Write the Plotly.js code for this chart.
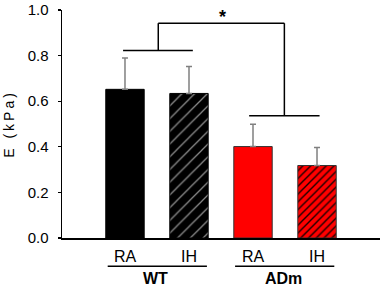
<!DOCTYPE html>
<html>
<head>
<meta charset="utf-8">
<script src="https://cdn.plot.ly/plotly-3.0.1.min.js"></script>
<style>
html,body{margin:0;padding:0;background:#fff;}
#chart{width:383px;height:289px;}
#chart .ytitle{letter-spacing:3px;}
</style>
</head>
<body>
<div id="chart"></div>
<script>
// ---- data ----
var groups = ["WT", "WT", "ADm", "ADm"];
var conditions = ["RA", "IH", "RA", "IH"];
var means = [0.652, 0.634, 0.401, 0.318];
var sems = [0.138, 0.118, 0.098, 0.079];
var groupNames = ["WT", "ADm"];
var yTickValues = [0.0, 0.2, 0.4, 0.6, 0.8, 1.0];
var significanceLabel = "*";

var xIdx = conditions.map(function (_, i) { return i; });

function groupIdx(g) { return xIdx.filter(function (i) { return groups[i] === g; }); }
function groupMin(g) { return Math.min.apply(null, groupIdx(g)); }
function groupMax(g) { return Math.max.apply(null, groupIdx(g)); }
function groupCenter(g) { return (groupMin(g) + groupMax(g)) / 2; }

// styles per bar (not data)
var fillColor = { WT: "#000000", ADm: "#ff0000" };
var outlineColor = { WT: "#000000", ADm: "#333333" };
var hatchColor = { WT: "#8c8c8c", ADm: "#1a0000" };
var hatchSize = { WT: 9, ADm: 5.5 };
var hatchSolidity = { WT: 0.14, ADm: 0.25 };

var FONT = "Liberation Sans, Arial, sans-serif";

var traces = xIdx.map(function (i) {
  var g = groups[i];
  var hatched = conditions[i] === "IH";
  var marker = {
    color: fillColor[g],
    line: { color: outlineColor[g], width: 1 }
  };
  if (hatched) {
    marker.pattern = {
      shape: "/",
      fgcolor: hatchColor[g],
      bgcolor: fillColor[g],
      size: hatchSize[g],
      solidity: hatchSolidity[g],
      fillmode: "replace"
    };
  }
  return {
    type: "bar",
    x: [xIdx[i]],
    y: [means[i]],
    width: 0.6,
    marker: marker,
    error_y: {
      type: "data",
      array: [sems[i]],
      arrayminus: [0],
      symmetric: false,
      color: "#808080",
      thickness: 1.5,
      width: 3
    },
    hoverinfo: "none"
  };
});

var wt = groupNames[0], ad = groupNames[1];
var wtBarY = 0.822, topY = 0.942, adBarY = 0.536;
var wtMid = groupCenter(wt), adMid = groupCenter(ad);
var line = { color: "#000000", width: 1.5 };

var shapes = [
  { type: "line", xref: "x", yref: "y", x0: groupMin(wt) - 0.03, x1: groupMax(wt) + 0.06, y0: wtBarY, y1: wtBarY, line: line },
  { type: "line", xref: "x", yref: "y", x0: wtMid + 0.02, x1: wtMid + 0.02, y0: wtBarY, y1: topY, line: line },
  { type: "line", xref: "x", yref: "y", x0: wtMid + 0.02, x1: adMid - 0.01, y0: topY, y1: topY, line: line },
  { type: "line", xref: "x", yref: "y", x0: adMid - 0.01, x1: adMid - 0.01, y0: topY, y1: adBarY, line: line },
  { type: "line", xref: "x", yref: "y", x0: groupMin(ad) - 0.06, x1: groupMax(ad) + 0.04, y0: adBarY, y1: adBarY, line: line },
  { type: "line", xref: "x", yref: "paper", x0: groupMin(wt) - 0.27, x1: groupMax(wt) + 0.28, y0: -0.124, y1: -0.124, line: line },
  { type: "line", xref: "x", yref: "paper", x0: groupMin(ad) - 0.28, x1: groupMax(ad) + 0.27, y0: -0.124, y1: -0.124, line: line }
];

var annotations = [
  { x: wtMid - 0.03, y: -0.178, xref: "x", yref: "paper", text: "<b>" + wt + "</b>", showarrow: false,
    font: { family: FONT, size: 16, color: "#000" }, yanchor: "middle" },
  { x: adMid - 0.03, y: -0.178, xref: "x", yref: "paper", text: "<b>" + ad + "</b>", showarrow: false,
    font: { family: FONT, size: 16, color: "#000" }, yanchor: "middle" },
  { x: (wtMid + adMid) / 2 + 0.03, y: 0.968, xref: "x", yref: "y", text: "<b>" + significanceLabel + "</b>", showarrow: false,
    font: { family: FONT, size: 18, color: "#000" }, yanchor: "middle" }
];

var layout = {
  width: 383,
  height: 289,
  margin: { l: 62, r: 3, t: 10, b: 51, pad: 0 },
  paper_bgcolor: "#ffffff",
  plot_bgcolor: "#ffffff",
  showlegend: false,
  barmode: "overlay",
  font: { family: FONT, size: 14, color: "#000" },
  xaxis: {
    range: [-0.984, 3.984],
    tickmode: "array",
    tickvals: xIdx,
    ticktext: conditions,
    ticks: "",
    ticklabelstandoff: 3,
    showgrid: false,
    zeroline: false,
    showline: true,
    linecolor: "#000",
    linewidth: 1.5,
    tickfont: { family: FONT, size: 16 },
    fixedrange: true
  },
  yaxis: {
    range: [0, 1.0],
    tickmode: "array",
    tickvals: yTickValues,
    tickformat: ".1f",
    ticks: "outside",
    ticklen: 3,
    tickwidth: 1.2,
    tickcolor: "#000",
    ticklabelstandoff: 6,
    showgrid: false,
    zeroline: false,
    showline: true,
    linecolor: "#000",
    linewidth: 1.5,
    tickfont: { family: FONT, size: 15 },
    title: { text: "E (kPa)", font: { family: FONT, size: 14 }, standoff: 9 },
    fixedrange: true
  },
  shapes: shapes,
  annotations: annotations
};

Plotly.newPlot("chart", traces, layout, { staticPlot: true, displayModeBar: false });
</script>
</body>
</html>
